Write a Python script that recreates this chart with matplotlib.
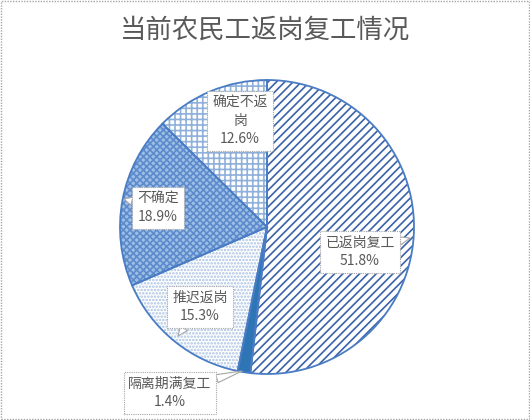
import matplotlib
matplotlib.use('Agg')
import matplotlib.pyplot as plt
from matplotlib.patches import Rectangle

plt.rcParams['font.family'] = ['Noto Sans CJK SC', 'DejaVu Sans']
plt.rcParams['hatch.linewidth'] = 1.2

# data
labels = ['已返岗复工', '隔离期满复工', '推迟返岗', '不确定', '确定不返岗']
shares = [51.8, 1.4, 15.3, 18.9, 12.6]
label_text = ['已返岗复工', '隔离期满复工', '推迟返岗', '不确定', '确定不返\n岗']

W, H = 530, 420
fig = plt.figure(figsize=(W / 100, H / 100), dpi=100)
ax = fig.add_axes([0, 0, 1, 1])


def py(y):
    # pixel row -> data y
    return H - y


face = ['white', '#2E75B6', 'white', '#9DBFE6', 'white']
hatch = ['////', None, '.....', 'xxxxx', '+++']
hcol = ['#3A62A8', '#2E75B6', '#A9C2E3', '#5E8BCB', '#8FB0DA']
centre = (267, py(227))

wedges, _ = ax.pie(shares, startangle=90, counterclock=False,
                   center=centre, radius=147, colors=face,
                   wedgeprops=dict(linewidth=0))
for w, hp, hc in zip(wedges, hatch, hcol):
    w.set_edgecolor(hc)
    if hp:
        w.set_hatch(hp)

# outlines on top, all in the same blue
ax.pie(shares, startangle=90, counterclock=False, center=centre, radius=147,
       colors=['none'] * len(shares),
       wedgeprops=dict(edgecolor='#4A7CC4', linewidth=1.3))

ax.set_xlim(0, W)
ax.set_ylim(0, H)
ax.axis('off')

# label boxes: text centre and point the callout goes to
text_pos = [(360, 252), (170, 393), (200, 307), (158, 208), (240, 121)]
tip_pos = [(410, 238), (242, 371), (178, 336), (124, 199), (240, 121)]

box = dict(boxstyle='square,pad=0.35', fc='white', ec='#A6A6A6',
           lw=0.8, ls=(0, (1, 1)))
for i, t in enumerate(label_text):
    txt = f'{t}\n{shares[i]:.1f}%'
    tx, ty = text_pos[i]
    kx, ky = tip_pos[i]
    if (kx, ky) == (tx, ty):
        ax.text(tx, py(ty), txt, ha='center', va='center', fontsize=10,
                color='#595959', linespacing=1.35, bbox=box)
    else:
        ax.annotate(txt, xy=(kx, py(ky)), xytext=(tx, py(ty)),
                    ha='center', va='center', fontsize=10, color='#595959',
                    linespacing=1.35, bbox=box,
                    arrowprops=dict(arrowstyle='wedge,tail_width=0.6',
                                    fc='white', ec='#A6A6A6', lw=0.8,
                                    shrinkA=0, shrinkB=0))

fig.text(0.5, 1 - 30 / H, '当前农民工返岗复工情况', ha='center', va='center',
         fontsize=19, color='#595959')

fig.patches.append(Rectangle((0.002, 0.002), 0.996, 0.996,
                             transform=fig.transFigure, fill=False,
                             ec='#A6A6A6', lw=1.0, ls=(0, (1, 1))))

fig.savefig('out.png', dpi=100)
